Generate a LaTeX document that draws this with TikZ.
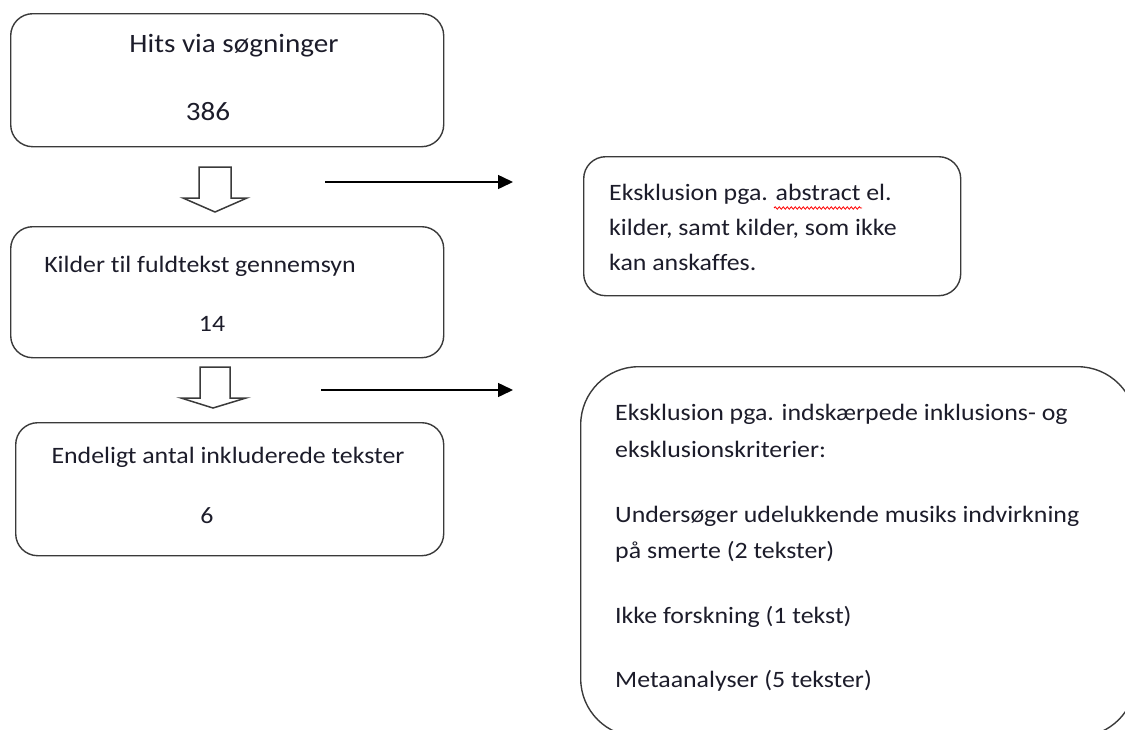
\documentclass[tikz,border=0pt]{standalone}
\usepackage{fontspec}
\setmainfont{Carlito}[FakeStretch=1.1, Ligatures=NoCommon]
\usetikzlibrary{arrows.meta,decorations.pathmorphing}
\definecolor{kant}{HTML}{3A3A3A}
\definecolor{skrift}{HTML}{1C1C2A}
\tikzset{
  boks/.style={draw=kant, line width=1.4pt, rounded corners=22pt, anchor=north west, inner sep=0pt},
  tekst/.style={inner sep=0pt, text=skrift, font=\fontsize{23.5}{28}\selectfont, text height=16pt, text depth=5pt},
  pil/.style={draw=black, line width=1.5pt, -{Triangle[length=15pt,width=14pt]}},
  blok/.style={draw=kant, line width=1.5pt, fill=white, line join=miter}
}
\begin{document}
\begin{tikzpicture}[x=1pt,y=-1pt]
  \useasboundingbox (0,0) rectangle (1125,729);
  \clip (0,0) rectangle (1125,729);
  % venstre kolonne: bokse
  \node[boks, minimum width=433pt, minimum height=133pt] (hits) at (10,13) {};
  \node[boks, minimum width=433pt, minimum height=131pt] (kilder) at (10,226) {};
  \node[boks, minimum width=428pt, minimum height=133pt] (endelig) at (15,422) {};
  % hoejre kolonne: eksklusioner
  \node[boks, minimum width=377pt, minimum height=139pt] (eks1) at (583,156) {};
  \node[boks, minimum width=555pt, minimum height=370pt, rounded corners=58pt] (eks2) at (580,366) {};

  % tekster
  \node[tekst, font=\fontsize{26.5}{30}\selectfont] (hitsT) at (234,47) {Hits via søgninger};
  \node[tekst, font=\fontsize{26.5}{30}\selectfont] (hitsN) at (208,115) {386};
  \node[tekst] (kilderT) at (200,267) {Kilder til fuldtekst gennemsyn};
  \node[tekst] (kilderN) at (212,326) {14};
  \node[tekst] (endeligT) at (228,458) {Endeligt antal inkluderede tekster};
  \node[tekst] (endeligN) at (207,518) {6};

  \node[tekst, anchor=west] (eks1a) at (609,195) {Eksklusion pga. abstract el.};
  \node[tekst, anchor=west] (eks1b) at (609,230) {kilder, samt kilder, som ikke};
  \node[tekst, anchor=west] (eks1c) at (609,265) {kan anskaffes.};
  \draw[red, line width=0.8pt, decorate, decoration={snake, amplitude=1.2pt, segment length=4pt}]
    (774,208) -- (862,208); % stavekontrol

  \node[tekst, anchor=west] (eks2a) at (615,415) {Eksklusion pga. indskærpede inklusions- og};
  \node[tekst, anchor=west] (eks2b) at (615,452) {eksklusionskriterier:};
  \node[tekst, anchor=west] (eks2c) at (615,517) {Undersøger udelukkende musiks indvirkning};
  \node[tekst, anchor=west] (eks2d) at (615,553) {på smerte (2 tekster)};
  \node[tekst, anchor=west] (eks2e) at (615,618) {Ikke forskning (1 tekst)};
  \node[tekst, anchor=west] (eks2f) at (615,682) {Metaanalyser (5 tekster)};

  % blokpile
  \draw[blok] (199,167) -- (231,167) -- (231,198) -- (247,198) -- (215,212)
              -- (183,198) -- (199,198) -- cycle;
  \draw[blok] (200,367) -- (230,367) -- (230,398) -- (246,398) -- (213,408)
              -- (181,398) -- (200,398) -- cycle;

  % pile mod eksklusion
  \coordinate (fra1) at (325,182);
  \coordinate (til1) at (513,182);
  \coordinate (fra2) at (321,390);
  \coordinate (til2) at (513,390);
  \draw[pil] (fra1) -- (til1);
  \draw[pil] (fra2) -- (til2);
\end{tikzpicture}
\end{document}
